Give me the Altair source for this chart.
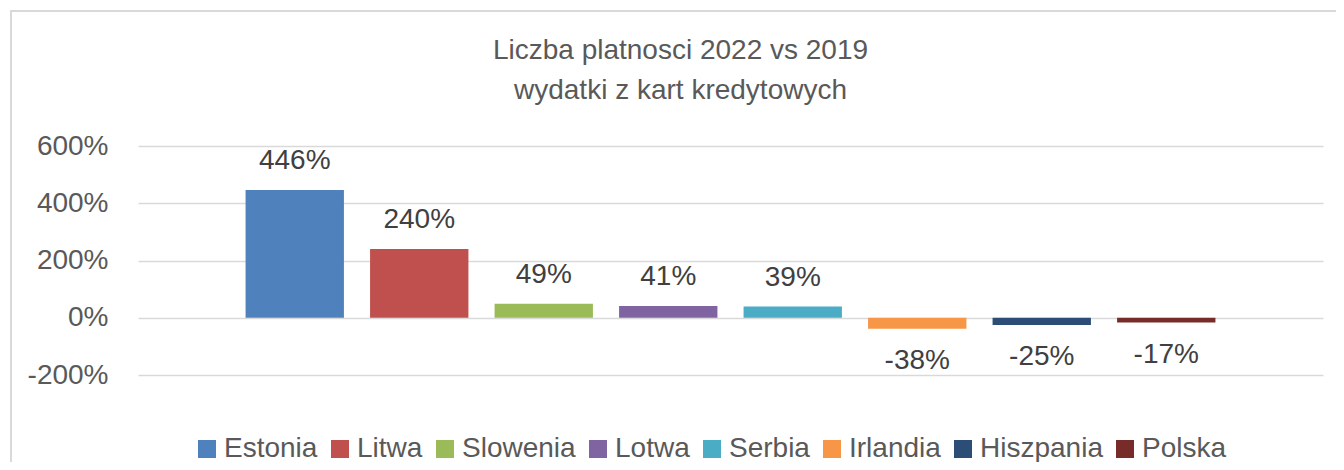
import altair as alt
import pandas as pd

countries = ["Estonia", "Litwa", "Slowenia", "Lotwa", "Serbia", "Irlandia", "Hiszpania", "Polska"]
values = [446, 240, 49, 41, 39, -38, -25, -17]
colors = ["#4F81BD", "#C0504D", "#9BBB59", "#8064A2", "#4BACC6", "#F79646", "#2C4D75", "#772C2A"]
y_ticks = [-200, 0, 200, 400, 600]

df = pd.DataFrame({"kraj": countries, "wartosc": values})
df["etykieta"] = [f"{v}%" for v in values]

FONT = "Liberation Sans"
FS = 28

x_enc = alt.X("kraj:N", sort=countries, axis=None,
              scale=alt.Scale(paddingInner=0.21, paddingOuter=0.864))

bars = alt.Chart(df).mark_bar().encode(
    x=x_enc,
    y=alt.Y("wartosc:Q",
            scale=alt.Scale(domain=[-200, 600], nice=False, zero=True),
            axis=alt.Axis(values=y_ticks, labelExpr="datum.value + '%'", title=None,
                          grid=True, gridColor="#D9D9D9", gridWidth=1.5,
                          domain=False, ticks=False, labelPadding=30,
                          labelFont=FONT, labelFontSize=FS, labelColor="#595959")),
    color=alt.Color("kraj:N", sort=countries,
                    scale=alt.Scale(domain=countries, range=colors),
                    legend=alt.Legend(title=None, orient="none", legendX=55, legendY=289,
                                      direction="horizontal", columns=8,
                                      symbolType="square", symbolSize=324,
                                      symbolStrokeWidth=0, symbolOpacity=1,
                                      labelFont=FONT, labelFontSize=FS, labelColor="#595959",
                                      labelOffset=3, columnPadding=8))
)

pos_labels = alt.Chart(df).transform_filter("datum.wartosc >= 0").mark_text(
    baseline="middle", dy=-29, font=FONT, fontSize=FS, color="#404040"
).encode(x=x_enc, y="wartosc:Q", text="etykieta:N")

neg_labels = alt.Chart(df).transform_filter("datum.wartosc < 0").mark_text(
    baseline="middle", dy=32, font=FONT, fontSize=FS, color="#404040"
).encode(x=x_enc, y="wartosc:Q", text="etykieta:N")

# decorative chart-area frame (left and top edges visible in the reference)
frame_src = pd.DataFrame({"k": [0]})
frame_left = alt.Chart(frame_src).mark_rule(color="#D9D9D9", strokeWidth=2).encode(
    x=alt.value(-127), y=alt.value(-136), y2=alt.value(330))
frame_top = alt.Chart(frame_src).mark_rule(color="#D9D9D9", strokeWidth=2).encode(
    x=alt.value(-128), x2=alt.value(1215), y=alt.value(-135))

chart = alt.layer(frame_left, frame_top, bars, pos_labels, neg_labels).properties(
    width=1185, height=229,
    background="white",
    autosize=alt.AutoSizeParams(type="none"),
    padding={"left": 130, "top": 138, "right": 13, "bottom": 87},
    title=alt.Title(["Liczba platnosci 2022 vs 2019", "wydatki z kart kredytowych"],
                    anchor="middle", dx=-50, offset=-96, lineHeight=40,
                    font=FONT, fontSize=FS, fontWeight="normal", color="#595959"),
).configure_view(strokeWidth=0, stroke="transparent")

chart.save("out.html", embed_options={"renderer": "svg", "actions": False})
